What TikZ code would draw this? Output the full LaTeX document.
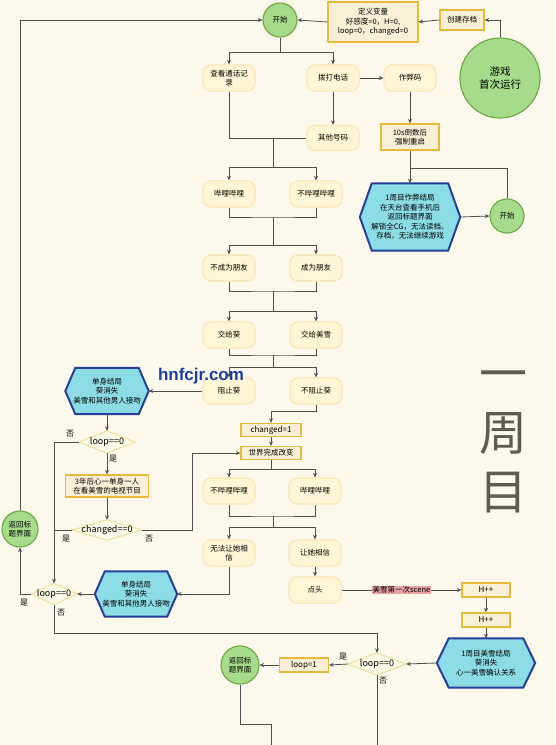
\documentclass[tikz,border=0pt]{standalone}
\usepackage{fontspec}
\setmainfont{Noto Sans CJK SC}
\newfontfamily\webfont{Liberation Sans}
\usetikzlibrary{arrows.meta,calc}
\pgfdeclarelayer{back}
\pgfdeclarelayer{shapes}
\pgfsetlayers{back,shapes,main}
\definecolor{bgc}{HTML}{FCF8EC}
\definecolor{rfill}{HTML}{FFF6D6}
\definecolor{rline}{HTML}{FBE6B6}
\definecolor{gfill}{HTML}{F8EFD6}
\definecolor{gline}{HTML}{E8BA3A}
\definecolor{hfill}{HTML}{8CDCE5}
\definecolor{hline}{HTML}{26409A}
\definecolor{cfill}{HTML}{A6DB8B}
\definecolor{cline}{HTML}{6CAD48}
\definecolor{dfill}{HTML}{FEFAEA}
\definecolor{dline}{HTML}{F2E2A2}
\definecolor{lc}{HTML}{4E4E4E}
\definecolor{pinkc}{HTML}{E9A3A3}
\definecolor{bigc}{HTML}{5E5B52}
\definecolor{webc}{HTML}{1B3FA0}
\newcommand\hexdraw[2]{\filldraw[fill=hfill,draw=hline,line width=2pt,line join=miter]
  (#1.west) -- ([xshift=#2]#1.north west) -- ([xshift=-#2]#1.north east) -- (#1.east)
  -- ([xshift=-#2]#1.south east) -- ([xshift=#2]#1.south west) -- cycle;}
\newcommand\diadraw[1]{\filldraw[fill=dfill,draw=dline,line width=1.2pt]
  (#1.west) -- (#1.north) -- (#1.east) -- (#1.south) -- cycle;}
\begin{document}
\begin{tikzpicture}[x=1pt,y=-1pt,
  txt/.style={font=\fontsize{7.5}{9.5}\selectfont},
  rbox/.style={txt,rounded corners=8pt,fill=rfill,draw=rline,line width=1.2pt,
    minimum width=52pt,minimum height=26pt,inner sep=1pt,align=center},
  gbox/.style={txt,fill=gfill,draw=gline,line width=1.3pt,inner sep=1pt,align=center},
  circ/.style={txt,circle,fill=cfill,draw=cline,line width=1.2pt,inner sep=0pt,align=center},
  hexn/.style={txt,inner sep=0pt,align=center},
  dian/.style={font=\fontsize{9}{10}\selectfont,inner sep=0pt},
  ln/.style={draw=lc,line width=0.8pt},
  arr/.style={ln,-{Stealth[length=4.5pt,width=4pt]}},
  yn/.style={font=\fontsize{8}{9}\selectfont,inner sep=0pt,text=black},
  pinklab/.style={txt,fill=pinkc,inner sep=1pt}]
\begin{pgfonlayer}{back}
\fill[bgc] (0,0) rectangle (555,745);
\end{pgfonlayer}
\useasboundingbox (0,0) rectangle (555,745);

% circles
\node[circ,minimum size=34pt] (start1) at (280,20) {开始};
\node[circ,minimum size=80pt,font=\fontsize{10.5}{13}\selectfont] (first) at (500,78) {游戏\\首次运行};
\node[circ,minimum size=34pt] (start2) at (507,216) {开始};
\node[circ,minimum size=36pt] (ret1) at (20,529) {返回标\\题界面};
\node[circ,minimum size=38pt] (ret2) at (240,665) {返回标\\题界面};

% gold boxes
\node[gbox,minimum width=90pt,minimum height=40pt,font=\fontsize{7.5}{9.5}\selectfont] (defvar) at (373,22) {定义变量\\好感度=0，H=0,\\loop=0，changed=0};
\node[gbox,minimum width=44pt,minimum height=20pt] (save) at (462,20) {创建存档};
\node[gbox,minimum width=58pt,minimum height=26pt] (tensec) at (410,137) {10s倒数后\\强制重启};
\node[gbox,minimum width=60pt,minimum height=13pt,font=\fontsize{8}{9}\selectfont] (ch1) at (271,430) {changed=1};
\node[gbox,minimum width=60pt,minimum height=13pt] (world) at (271,453) {世界完成改变};
\node[gbox,minimum width=83pt,minimum height=22pt] (years) at (107,486) {3年后心一单身一人\\在看美雪的电视节目};
\node[gbox,minimum width=48pt,minimum height=14pt,font=\fontsize{8}{9}\selectfont] (hpp1) at (486,590) {H++};
\node[gbox,minimum width=48pt,minimum height=14pt,font=\fontsize{8}{9}\selectfont] (hpp2) at (486,620) {H++};
\node[gbox,minimum width=49pt,minimum height=14pt,font=\fontsize{8}{9}\selectfont] (loop1) at (304,665) {loop=1};

% rounded boxes
\node[rbox] (call) at (229,78) {查看通话记\\录};
\node[rbox] (dial) at (333,78) {拨打电话};
\node[rbox] (cheat) at (410,78) {作弊码};
\node[rbox,minimum height=25pt] (other) at (333,138) {其他号码};
\node[rbox] (bl1) at (229,194) {哔哩哔哩};
\node[rbox] (nbl1) at (316,194) {不哔哩哔哩};
\node[rbox] (nf) at (229,268) {不成为朋友};
\node[rbox] (f) at (316,268) {成为朋友};
\node[rbox] (gk) at (229,335) {交给葵};
\node[rbox] (gm) at (316,335) {交给美雪};
\node[rbox] (sk) at (229,391) {阻止葵};
\node[rbox] (nsk) at (316,391) {不阻止葵};
\node[rbox] (nbl2) at (229,491) {不哔哩哔哩};
\node[rbox] (bl2) at (315,491) {哔哩哔哩};
\node[rbox] (nb) at (229,553) {无法让她相\\信};
\node[rbox] (b) at (315,553) {让她相信};
\node[rbox] (nod) at (315,590) {点头};

% hexagons (text nodes; outlines drawn on shapes layer)
\node[hexn,minimum width=100pt,minimum height=67pt] (hcheat) at (410,217) {1周目作弊结局\\在天台查看手机后\\返回标题界面\\解锁全CG，无法读档、\\存档，无法继续游戏};
\node[hexn,minimum width=83pt,minimum height=46pt] (hs1) at (107,391) {单身结局\\葵消失\\美雪和其他男人接吻};
\node[hexn,minimum width=82pt,minimum height=45pt] (hs2) at (136,594) {单身结局\\葵消失\\美雪和其他男人接吻};
\node[hexn,minimum width=98pt,minimum height=49pt] (hmx) at (486,663) {1周目美雪结局\\葵消失\\心一美雪确认关系};

% diamonds
\node[dian,minimum width=56pt,minimum height=22pt] (d1) at (107,442) {loop==0};
\node[dian,minimum width=69pt,minimum height=20pt] (d2) at (107,530) {changed==0};
\node[dian,minimum width=46pt,minimum height=21pt] (d3) at (54,594) {loop==0};
\node[dian,minimum width=58pt,minimum height=22pt] (d4) at (377,664) {loop==0};

\begin{pgfonlayer}{shapes}
\hexdraw{hcheat}{12pt}
\hexdraw{hs1}{10pt}
\hexdraw{hs2}{10pt}
\hexdraw{hmx}{12pt}
\diadraw{d1}
\diadraw{d2}
\diadraw{d3}
\diadraw{d4}
\end{pgfonlayer}

% big side title and web mark
\node[font=\fontsize{48}{59}\selectfont,text=bigc,align=center,inner sep=0pt] (title) at (503,442) {一\\周\\目};
\node[font=\webfont\bfseries\fontsize{17}{18}\selectfont,text=webc,inner sep=0pt] (web) at (201,376) {hnfcjr.com};

% junction coordinates
\coordinate (j1) at (280,52);
\coordinate (j2) at (410,168);
\coordinate (j3) at (273,138);
\coordinate (j4) at (273,167);
\coordinate (m1) at (273,217);
\coordinate (s1) at (273,245);
\coordinate (m2) at (273,291);
\coordinate (s2) at (273,311);
\coordinate (m3) at (273,355);
\coordinate (s3) at (273,367);
\coordinate (k1) at (316,411);
\coordinate (w1) at (271,469);
\coordinate (m4) at (273,516);
\coordinate (s4) at (273,527);
\coordinate (c1) at (192,530);
\coordinate (b1) at (54,633);
\coordinate (r2) at (240,724);
\coordinate (e1) at (271,745);
\coordinate (e2) at (377,745);

% connectors
\draw[arr] (first.north) |- (save.east);
\draw[arr] (save.west) -- (defvar.east);
\draw[arr] (defvar.west) -- (start1.east);
\draw[arr] (ret1.north) |- (start1.west);
\draw[ln] (start1.south) -- (j1);
\draw[arr] (j1) -| (call.north);
\draw[arr] (j1) -| (dial.north);
\draw[arr] (dial.east) -- (cheat.west);
\draw[arr] (cheat.south) -- (tensec.north);
\draw[arr] (tensec.south) -- (hcheat.north);
\draw[arr] (hcheat.east) -- (start2.west);
\draw[ln] (start2.north) |- (j2);
\draw[arr] (dial.south) -- (other.north);
\draw[ln] (call.south) |- (other.west);
\draw[ln] (j3) -- (j4);
\draw[arr] (j4) -| (bl1.north);
\draw[arr] (j4) -| (nbl1.north);
\draw[ln] (bl1.south) |- (m1) -| (nbl1.south);
\draw[ln] (m1) -- (s1);
\draw[arr] (s1) -| (nf.north);
\draw[arr] (s1) -| (f.north);
\draw[ln] (nf.south) |- (m2) -| (f.south);
\draw[ln] (m2) -- (s2);
\draw[arr] (s2) -| (gk.north);
\draw[arr] (s2) -| (gm.north);
\draw[ln] (gk.south) |- (m3) -| (gm.south);
\draw[ln] (m3) -- (s3);
\draw[arr] (s3) -| (sk.north);
\draw[arr] (s3) -| (nsk.north);
\draw[arr] (sk.west) -- (hs1.east);
\draw[arr] (hs1.south) -- (d1.north);
\draw[arr] (d1.west) -| (d3.north);
\draw[arr] (d1.south) -- (years.north);
\draw[arr] (years.south) -- (d2.north);
\draw[ln] (d2.west) -- (d2.west -| d3.north);
\draw[arr] (d2.east) -- (c1) |- (world.west);
\draw[arr] (nsk.south) -- (k1) -| (ch1.north);
\draw[arr] (ch1.south) -- (world.north);
\draw[ln] (world.south) -- (w1);
\draw[arr] (w1) -| (nbl2.north);
\draw[arr] (w1) -| (bl2.north);
\draw[ln] (nbl2.south) |- (m4) -| (bl2.south);
\draw[ln] (m4) -- (s4);
\draw[arr] (s4) -| (nb.north);
\draw[arr] (s4) -| (b.north);
\draw[arr] (b.south) -- (nod.north);
\draw[arr] (nb.south) |- (hs2.east);
\draw[arr] (hs2.west) -- (d3.east);
\draw[arr] (d3.west) -| (ret1.south);
\draw[ln] (d3.south) -- (b1);
\draw[arr] (b1) -| (d4.north);
\draw[arr] (nod.east) -- node[pinklab] (scene) {美雪第一次scene} (hpp1.west);
\draw[arr] (hpp1.south) -- (hpp2.north);
\draw[arr] (hpp2.south) -- (hmx.north);
\draw[arr] (hmx.west) -- (d4.east);
\draw[arr] (d4.west) -- (loop1.east);
\draw[arr] (loop1.west) -- (ret2.east);
\draw[ln] (ret2.south) -- (r2) -| (e1);
\draw[ln] (d4.south) -- (e2);

% yes / no labels
\node[yn] (n1) at (70,434) {否};
\node[yn] (y1) at (113,459) {是};
\node[yn] (y2) at (66,539) {是};
\node[yn] (n2) at (149,539) {否};
\node[yn] (y3) at (24,603) {是};
\node[yn] (n3) at (61,613) {否};
\node[yn] (y4) at (343,657) {是};
\node[yn] (n4) at (383,681) {否};
\end{tikzpicture}
\end{document}
